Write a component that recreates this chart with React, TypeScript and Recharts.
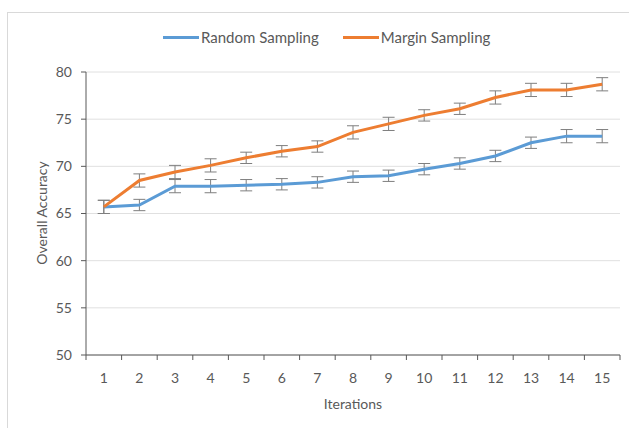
import React from "react";
import { LineChart, Line, XAxis, YAxis, CartesianGrid, ErrorBar } from "recharts";

// values
const iterations = [1, 2, 3, 4, 5, 6, 7, 8, 9, 10, 11, 12, 13, 14, 15];
const randomSampling = [65.7, 65.9, 67.9, 67.9, 68.0, 68.1, 68.3, 68.9, 69.0, 69.7, 70.3, 71.1, 72.5, 73.2, 73.2];
const marginSampling = [65.7, 68.5, 69.4, 70.1, 70.9, 71.6, 72.1, 73.6, 74.5, 75.4, 76.1, 77.3, 78.1, 78.1, 78.7];
const randomErr = [0.7, 0.6, 0.7, 0.7, 0.6, 0.6, 0.6, 0.6, 0.6, 0.6, 0.6, 0.6, 0.6, 0.7, 0.7];
const marginErr = [0.7, 0.7, 0.7, 0.7, 0.6, 0.6, 0.6, 0.7, 0.7, 0.6, 0.6, 0.7, 0.7, 0.7, 0.7];
const yTicks = [50, 55, 60, 65, 70, 75, 80];

const data = iterations.map((it, i) => ({
  iter: it,
  random: randomSampling[i],
  randomErr: randomErr[i],
  margin: marginSampling[i],
  marginErr: marginErr[i],
}));

const FONT = "Lato, 'Open Sans', sans-serif";
const BLUE = "#5b9bd5";
const ORANGE = "#ed7d31";
const AXIS = "#595959";

const W = 629;
const H = 428;
const LEFT = 86;
const RIGHT = 9;
const BAND = (W - LEFT - RIGHT) / iterations.length;

// x tick: label in the middle of the band, tick marks on the band edges
const XTick = (props: any) => {
  const { x, y, payload } = props;
  const last = payload.value === iterations[iterations.length - 1];
  return (
    <g>
      <line x1={x - BAND / 2} x2={x - BAND / 2} y1={y} y2={y + 5} stroke={AXIS} />
      {last && <line x1={x + BAND / 2} x2={x + BAND / 2} y1={y} y2={y + 5} stroke={AXIS} />}
      <text x={x} y={y + 28} textAnchor="middle" fill={AXIS} fontSize={14} fontFamily={FONT}>
        {payload.value}
      </text>
    </g>
  );
};

const legendItems = [
  { name: "Random Sampling", color: BLUE },
  { name: "Margin Sampling", color: ORANGE },
];

export default function App() {
  return (
    <div style={{ position: "absolute", left: 0, top: 0, width: W, height: H, background: "#fff" }}>
      <div
        style={{
          position: "absolute",
          left: 7,
          top: 12,
          right: 0,
          bottom: 0,
          borderTop: "1px solid #d9d9d9",
          borderLeft: "1px solid #d9d9d9",
        }}
      />
      <div
        style={{
          position: "absolute",
          left: 163,
          top: 28,
          display: "flex",
          gap: 24,
          fontFamily: FONT,
          fontSize: 15,
          color: AXIS,
          lineHeight: "18px",
        }}
      >
        {legendItems.map((item) => (
          <div key={item.name} style={{ display: "flex", alignItems: "center" }}>
            <div style={{ width: 36, height: 3, background: item.color, marginRight: 2 }} />
            <span>{item.name}</span>
          </div>
        ))}
      </div>
      <div style={{ position: "absolute", left: 0, top: 0 }}>
        <LineChart width={W} height={H} data={data} margin={{ top: 72, right: RIGHT, left: 26, bottom: 43 }}>
          <CartesianGrid vertical={false} stroke="#e0e0e0" />
          <XAxis
            dataKey="iter"
            type="number"
            domain={[0.5, 15.5]}
            ticks={iterations}
            axisLine={{ stroke: AXIS }}
            tickLine={false}
            tickSize={0}
            tickMargin={0}
            tick={<XTick />}
            height={30}
            interval={0}
          />
          <YAxis
            domain={[50, 80]}
            ticks={yTicks}
            width={60}
            axisLine={{ stroke: AXIS }}
            tickLine={{ stroke: AXIS }}
            tickSize={5}
            tickMargin={9}
            tick={{ fill: AXIS, fontSize: 14, fontFamily: FONT }}
          />
          <Line dataKey="random" name="Random Sampling" stroke={BLUE} strokeWidth={3} dot={false} isAnimationActive={false}>
            <ErrorBar dataKey="randomErr" direction="y" width={6} stroke="#7f7f7f" strokeWidth={1} />
          </Line>
          <Line dataKey="margin" name="Margin Sampling" stroke={ORANGE} strokeWidth={3} dot={false} isAnimationActive={false}>
            <ErrorBar dataKey="marginErr" direction="y" width={6} stroke="#7f7f7f" strokeWidth={1} />
          </Line>
          <text x={LEFT + (W - LEFT - RIGHT) / 2} y={409} textAnchor="middle" fill={AXIS} fontSize={14} fontFamily={FONT}>
            Iterations
          </text>
          <text
            x={47}
            y={213}
            transform="rotate(-90 47 213)"
            textAnchor="middle"
            fill={AXIS}
            fontSize={14}
            fontFamily={FONT}
          >
            Overall Accuracy
          </text>
        </LineChart>
      </div>
    </div>
  );
}
